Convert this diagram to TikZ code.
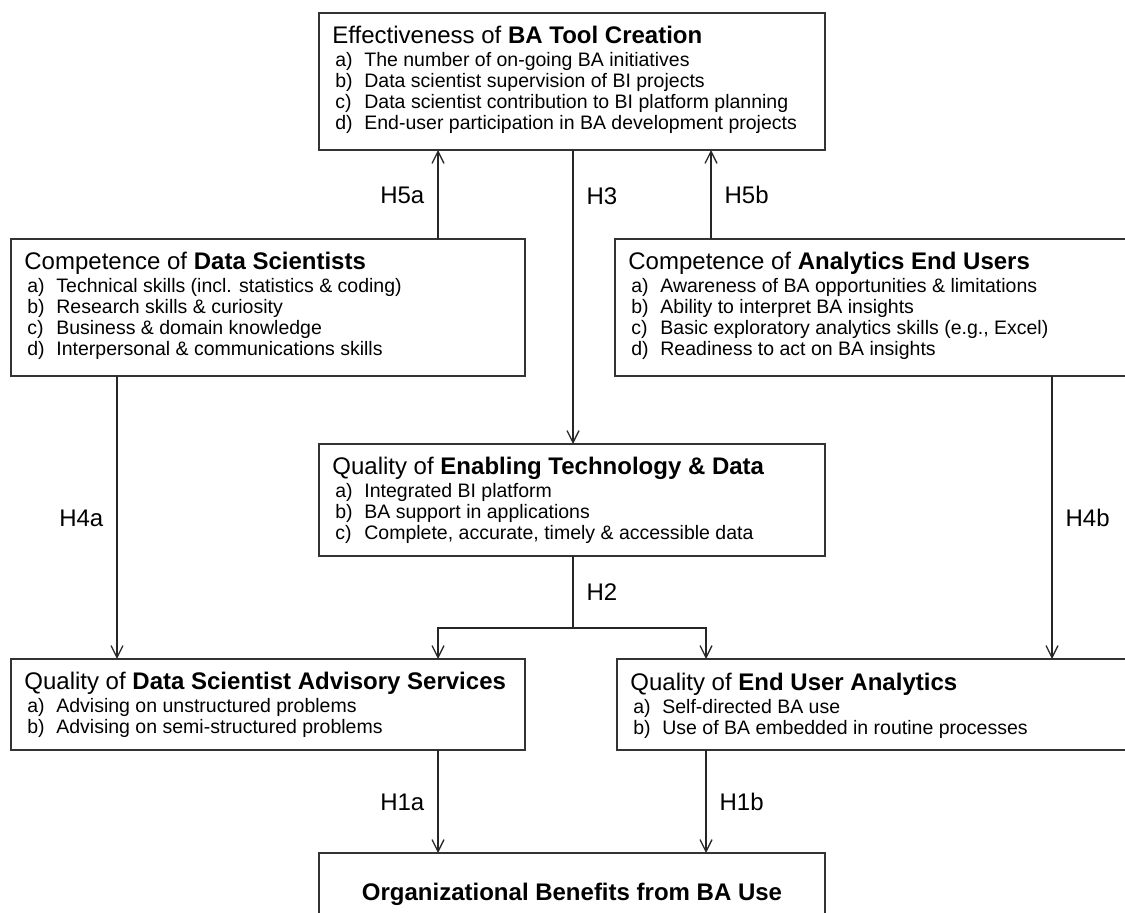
\documentclass[tikz,border=0pt]{standalone}
\usepackage{fontspec}
\setmainfont{Liberation Sans}
\usetikzlibrary{arrows.meta,calc}

\newcommand{\ttlfont}{\fontsize{12pt}{14pt}\selectfont}
\newcommand{\itmfont}{\fontsize{9.75pt}{10.5pt}\selectfont}

% panel body: a heading line followed by a lettered list
\newcommand{\panelbody}[2]{{\itmfont\begin{tabular}[t]{@{\hspace{1.5pt}}p{14.5pt}@{}l@{}}
\multicolumn{2}{@{}l@{}}{\ttlfont #1}\\[1pt]
#2
\end{tabular}}}

\begin{document}
\begin{tikzpicture}[x=0.5pt,y=-0.5pt,
  panel/.style={draw=black!80, line width=0.8pt, rectangle, inner sep=0pt, outer sep=0pt, anchor=north west},
  body/.style={anchor=base west, inner sep=0pt},
  link/.style={draw=black!85, line width=0.65pt},
  arr/.style={link, -{Straight Barb[length=6pt,width=6pt]}},
  hlab/.style={inner sep=0pt, font=\ttlfont, text height=8.6pt, text depth=0pt},
]
\useasboundingbox (0,0) rectangle (1125,913);
\clip (0,0) rectangle (1125,913);

% column positions of the vertical connectors
\coordinate (xL) at (438,0);
\coordinate (xM) at (573,0);
\coordinate (xR) at (706,0);
\coordinate (xH5b) at (711,0);
\coordinate (xH4a) at (117,0);
\coordinate (xH4b) at (1052,0);

% panels
\node[panel, minimum width=253pt, minimum height=68.5pt] (tool) at (319,13) {};
\node[panel, minimum width=257pt, minimum height=68.5pt] (ds) at (11,239) {};
\node[panel, minimum width=265pt, minimum height=68.5pt] (aeu) at (615,239) {};
\node[panel, minimum width=253pt, minimum height=56pt] (tech) at (319,444) {};
\node[panel, minimum width=257pt, minimum height=45.5pt] (dsas) at (11,659) {};
\node[panel, minimum width=265pt, minimum height=45.5pt] (eua) at (617,659) {};
\node[panel, minimum width=253pt, minimum height=60pt] (org) at (319,853) {};

% panel texts
\node[body] (toolText) at ($(tool.north west)+(13,31)$) {\panelbody{Effectiveness of \textbf{BA Tool Creation}}{%
a) & The number of on-going BA initiatives\\
b) & Data scientist supervision of BI projects\\
c) & Data scientist contribution to BI platform planning\\
d) & End-user participation in BA development projects}};

\node[body] (dsText) at ($(ds.north west)+(13,31)$) {\panelbody{Competence of \textbf{Data Scientists}}{%
a) & Technical skills (incl. statistics \& coding)\\
b) & Research skills \& curiosity\\
c) & Business \& domain knowledge\\
d) & Interpersonal \& communications skills}};

\node[body] (aeuText) at ($(aeu.north west)+(13,31)$) {\panelbody{Competence of \textbf{Analytics End Users}}{%
a) & Awareness of BA opportunities \& limitations\\
b) & Ability to interpret BA insights\\
c) & Basic exploratory analytics skills (e.g., Excel)\\
d) & Readiness to act on BA insights}};

\node[body] (techText) at ($(tech.north west)+(13,31)$) {\panelbody{Quality of \textbf{Enabling Technology \& Data}}{%
a) & Integrated BI platform\\
b) & BA support in applications\\
c) & Complete, accurate, timely \& accessible data}};

\node[body] (dsasText) at ($(dsas.north west)+(13,31)$) {\panelbody{Quality of \textbf{Data Scientist Advisory Services}}{%
a) & Advising on unstructured problems\\
b) & Advising on semi-structured problems}};

\node[body] (euaText) at ($(eua.north west)+(13,32)$) {\panelbody{Quality of \textbf{End User Analytics}}{%
a) & Self-directed BA use\\
b) & Use of BA embedded in routine processes}};

\node[anchor=base, inner sep=0pt, font=\ttlfont\bfseries] (orgText) at ($(org.north)+(0,48)$) {Organizational Benefits from BA Use};

% hypothesised links
\draw[arr] (ds.north -| xL) -- node[hlab, midway, anchor=east, xshift=-6.5pt] (lH5a) {H5a} (tool.south -| xL);
\draw[arr] (tool.south -| xM) -- node[hlab, pos=0.156, anchor=west, xshift=6.5pt] (lH3) {H3} (tech.north -| xM);
\draw[arr] (aeu.north -| xH5b) -- node[hlab, midway, anchor=west, xshift=6.5pt] (lH5b) {H5b} (tool.south -| xH5b);
\draw[arr] (ds.south -| xH4a) -- node[hlab, midway, anchor=east, xshift=-6.5pt] (lH4a) {H4a} (dsas.north -| xH4a);
\draw[arr] (aeu.south -| xH4b) -- node[hlab, midway, anchor=west, xshift=6.5pt] (lH4b) {H4b} (eua.north -| xH4b);

\coordinate (split) at (573,628);
\draw[link] (tech.south -| xM) -- node[hlab, midway, anchor=west, xshift=6.5pt] (lH2) {H2} (split);
\draw[arr] (split) -| (dsas.north -| xL);
\draw[arr] (split) -| (eua.north -| xR);

\draw[arr] (dsas.south -| xL) -- node[hlab, midway, anchor=east, xshift=-6.5pt] (lH1a) {H1a} (org.north -| xL);
\draw[arr] (eua.south -| xR) -- node[hlab, midway, anchor=west, xshift=6.5pt] (lH1b) {H1b} (org.north -| xR);
\end{tikzpicture}
\end{document}
